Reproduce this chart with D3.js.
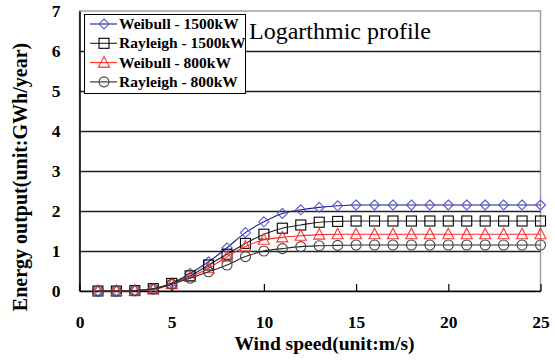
<!DOCTYPE html>
<head>
    <meta charset="utf-8">
    <script src="https://d3js.org/d3.v7.min.js"></script>
    <style>
      body { margin: 0; background: white; }
      text { font-family: "Liberation Serif", "DejaVu Serif", serif; fill: #000; }
      .ticklabel { font-size: 17.5px; font-weight: bold; }
      .xtitle { font-size: 19.5px; font-weight: bold; }
      .ytitle { font-size: 20px; font-weight: bold; }
      .legendtext { font-size: 15.5px; font-weight: bold; }
      .charttitle { font-size: 24px; }
    </style>
<body>
    <script>
        // data
        var windSpeed = [1,2,3,4,5,6,7,8,9,10,11,12,13,14,15,16,17,18,19,20,21,22,23,24,25]
        var weibull1500 = [0,0,0.01,0.05,0.2,0.44,0.73,1.08,1.46,1.73,1.94,2.03,2.09,2.13,2.15,2.15,2.15,2.15,2.15,2.15,2.15,2.15,2.15,2.15,2.15]
        var rayleigh1500 = [0,0,0.01,0.06,0.19,0.38,0.65,0.92,1.19,1.42,1.57,1.65,1.72,1.74,1.75,1.75,1.75,1.75,1.75,1.75,1.75,1.75,1.75,1.75,1.75]
        var weibull800 = [0,0,0.01,0.04,0.17,0.35,0.57,0.86,1.11,1.28,1.34,1.38,1.41,1.42,1.42,1.42,1.42,1.42,1.42,1.42,1.42,1.42,1.42,1.42,1.42]
        var rayleigh800 = [0,0,0.01,0.05,0.17,0.32,0.48,0.65,0.86,1.0,1.06,1.11,1.13,1.14,1.15,1.15,1.15,1.15,1.15,1.15,1.15,1.15,1.15,1.15,1.15]
        var seriesNames = ["Weibull - 1500kW","Rayleigh - 1500kW","Weibull - 800kW","Rayleigh - 800kW"]
        var xTicks = [0,5,10,15,20,25]
        var yTicks = [0,1,2,3,4,5,6,7]

        var series = [
          {name: seriesNames[0], values: weibull1500, line: "#1c1c8e", marker: "#5a5ad0", shape: "diamond"},
          {name: seriesNames[1], values: rayleigh1500, line: "#222", marker: "#000", shape: "square"},
          {name: seriesNames[2], values: weibull800, line: "#ff2a2a", marker: "#ff3030", shape: "triangle"},
          {name: seriesNames[3], values: rayleigh800, line: "#2a2a2a", marker: "#444", shape: "circle"}
        ]

        var svg_w = 555, svg_h = 362
        var svg = d3.select("body").append("svg")
          .attr("width", svg_w)
          .attr("height", svg_h)

        var x = d3.scaleLinear().domain([0, 25]).range([79.5, 540.5])
        var y = d3.scaleLinear().domain([0, 7]).range([291, 11])

        // plot frame (top/right grey)
        svg.append("rect")
          .attr("x", x(0)).attr("y", y(7))
          .attr("width", x(25) - x(0)).attr("height", y(0) - y(7))
          .attr("fill", "none").attr("stroke", "#a0a0a0").attr("stroke-width", 1.5)

        // gridlines
        svg.selectAll(".grid")
          .data(yTicks.filter(function(d){return d > 0 && d < 7}))
          .enter().append("line")
          .attr("x1", x(0)).attr("x2", x(25))
          .attr("y1", function(d){return Math.round(y(d)) + 0.5})
          .attr("y2", function(d){return Math.round(y(d)) + 0.5})
          .attr("stroke", "#222").attr("stroke-width", 1.3)

        // axes
        var xAxis = svg.append("g")
          .attr("transform", "translate(0," + y(0) + ")")
          .call(d3.axisBottom(x).tickValues(xTicks).tickSizeInner(-7).tickSizeOuter(0).tickPadding(25))
        xAxis.select(".domain").attr("stroke", "#000").attr("stroke-width", 1.5)
        xAxis.selectAll("line").attr("stroke", "#000").attr("stroke-width", 1.2)
        xAxis.selectAll("text").attr("class", "ticklabel").attr("font-family", null).attr("font-size", null)

        var yAxis = svg.append("g")
          .attr("transform", "translate(" + x(0) + ",0)")
          .call(d3.axisLeft(y).tickValues(yTicks).tickFormat(d3.format("d")).tickSize(0).tickPadding(19))
        yAxis.select(".domain").attr("stroke", "#000").attr("stroke-width", 1.5)
        yAxis.selectAll("text").attr("class", "ticklabel").attr("font-family", null).attr("font-size", null)
        xAxis.attr("font-family", null)
        yAxis.attr("font-family", null)

        // axis titles
        svg.append("text")
          .attr("class", "xtitle")
          .attr("x", 324.5).attr("y", 350)
          .attr("text-anchor", "middle")
          .text("Wind speed(unit:m/s)")
        svg.append("text")
          .attr("class", "ytitle")
          .attr("transform", "translate(27,177) rotate(-90)")
          .attr("text-anchor", "middle")
          .text("Energy output(unit:GWh/year)")

        // lines
        var line = d3.line()
          .x(function(d){return x(d[0])})
          .y(function(d){return y(d[1])})
          .curve(d3.curveMonotoneX)

        function drawMarker(g, shape, color) {
          var s = 5
          if (shape == "diamond") {
            g.append("path").attr("d", "M0," + (-s) + "L" + s + ",0L0," + s + "L" + (-s) + ",0Z")
          } else if (shape == "square") {
            g.append("rect").attr("x", -s).attr("y", -s).attr("width", 2*s).attr("height", 2*s)
          } else if (shape == "triangle") {
            g.append("path").attr("d", "M0," + (-s-1) + "L" + (s+0.5) + "," + (s-0.5) + "L" + (-s-0.5) + "," + (s-0.5) + "Z")
          } else {
            g.append("circle").attr("r", s)
          }
          g.selectAll("*").attr("fill", "none").attr("stroke", color).attr("stroke-width", 1.1)
        }

        series.forEach(function(s) {
          var pts = windSpeed.map(function(w, i){return [w, s.values[i]]})
          svg.append("path")
            .datum(pts)
            .attr("d", line)
            .attr("fill", "none")
            .attr("stroke", s.line)
            .attr("stroke-width", 1.1)
          svg.append("g").selectAll("g")
            .data(pts)
            .enter().append("g")
            .attr("transform", function(d){return "translate(" + x(d[0]) + "," + y(d[1]) + ")"})
            .each(function(){ drawMarker(d3.select(this), s.shape, s.marker) })
        })

        // legend
        var legend = svg.append("g")
        legend.append("rect")
          .attr("x", 84.5).attr("y", 14.5).attr("width", 161).attr("height", 79)
          .attr("fill", "white").attr("stroke", "#000").attr("stroke-width", 1)
        series.forEach(function(s, i) {
          var ly = 24 + i * 19.3
          var item = legend.append("g").attr("transform", "translate(0," + ly + ")")
          item.append("line").attr("x1", 90).attr("x2", 117).attr("y1", 0).attr("y2", 0)
            .attr("stroke", s.line).attr("stroke-width", 1.1)
          drawMarker(item.append("g").attr("transform", "translate(104,0)"), s.shape, s.marker)
          item.append("text").attr("class", "legendtext")
            .attr("x", 119).attr("y", 5)
            .text(s.name)
        })

        // title
        svg.append("text")
          .attr("class", "charttitle")
          .attr("x", 249).attr("y", 39)
          .text("Logarthmic profile")
    </script>
</body>
